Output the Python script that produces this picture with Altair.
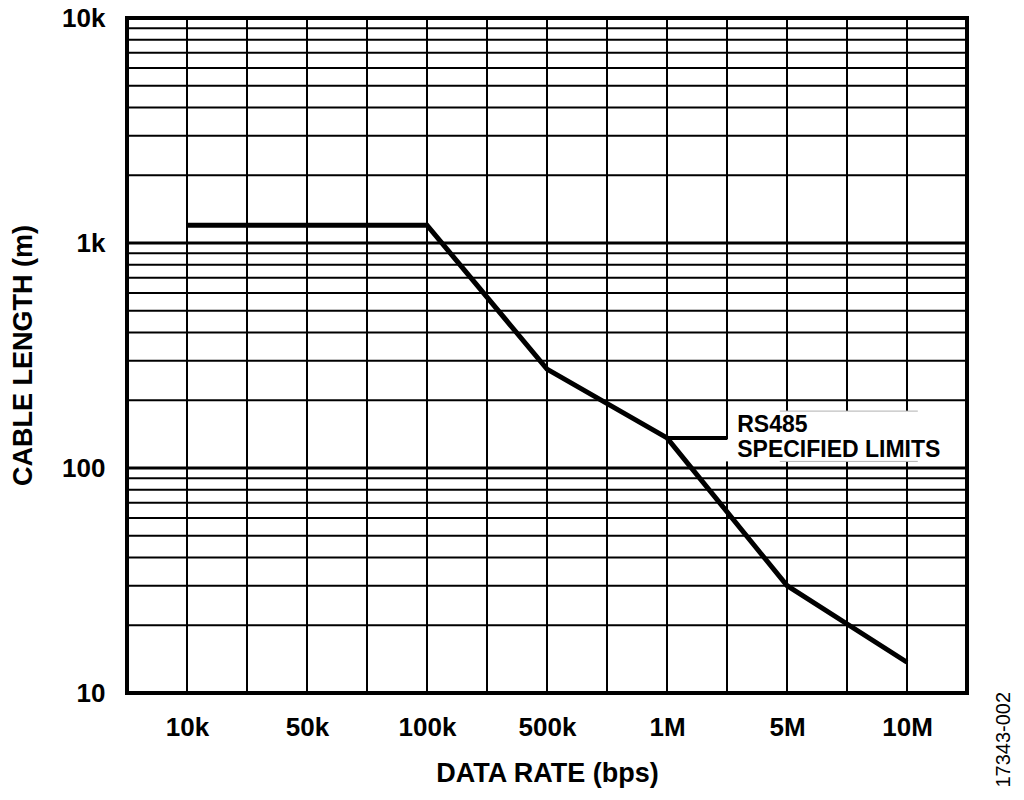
import altair as alt
import pandas as pd

# ---- data ----
rate_labels = ["10k", "50k", "100k", "500k", "1M", "5M", "10M"]
rate_pos = [1, 3, 5, 7, 9, 11, 13]

line_rates = ["10k", "100k", "500k", "1M", "5M", "10M"]
line_lengths = [1200, 1200, 275, 136, 30, 13.7]

x_grid = list(range(1, 14))
y_minor = [20, 30, 40, 50, 60, 70, 80, 90,
           200, 300, 400, 500, 600, 700, 800, 900,
           2000, 3000, 4000, 5000, 6000, 7000, 8000, 9000]
y_major = [100, 1000]

y_ticks = [10, 100, 1000, 10000]
y_tick_labels = ["10", "100", "1k", "10k"]

note_lines = ["RS485", "SPECIFIED LIMITS"]
note_y = [144, 112]
note_x = 10.17
leader_from, leader_to, leader_y = 9, 10, 136
box_x = [10.04, 9.96]
box_x2 = [13.18, 10.04]
box_y = [107, 107]
box_y2 = [179, 134]
edge_x, edge_x2 = 10.88, 13.18

fig_id = "17343-002"

FONT = "Liberation Sans"

pos_of = dict(zip(rate_labels, rate_pos))
df_line = pd.DataFrame({"x": [pos_of[r] for r in line_rates], "y": line_lengths, "rate": line_rates})

x_expr = " : ".join(f"datum.value == {p} ? '{l}'" for p, l in zip(rate_pos, rate_labels)) + " : ''"
y_expr = " : ".join(f"datum.value == {v} ? '{l}'" for v, l in zip(y_ticks, y_tick_labels)) + " : ''"

xs = alt.Scale(domain=[0, 14], nice=False, zero=False)
ys = alt.Scale(type="log", domain=[10, 10000], nice=False)

x_axis = alt.Axis(values=rate_pos, labelExpr=x_expr, title="DATA RATE (bps)",
                  grid=False, domain=False, ticks=False, labelPadding=21,
                  labelFontSize=26, labelFont=FONT, labelFontWeight="bold", labelColor="black",
                  titleFontSize=27, titleFont=FONT, titleFontWeight="bold", titleColor="black",
                  titleX=420, titleY=80, titleBaseline="middle", titleAlign="center")
y_axis = alt.Axis(values=y_ticks, labelExpr=y_expr, title="CABLE LENGTH (m)",
                  grid=False, domain=False, ticks=False, labelPadding=22,
                  labelFontSize=26, labelFont=FONT, labelFontWeight="bold", labelColor="black",
                  titleFontSize=27, titleFont=FONT, titleFontWeight="bold", titleColor="black",
                  titleX=-104, titleY=337, titleAngle=270, titleBaseline="middle", titleAlign="center")

X = lambda f: alt.X(f, scale=xs, axis=x_axis)
Y = lambda f: alt.Y(f, scale=ys, axis=y_axis)

vgrid = alt.Chart(pd.DataFrame({"x": x_grid})).mark_rule(color="black", strokeWidth=2).encode(
    x=X("x:Q"))
hminor = alt.Chart(pd.DataFrame({"y": y_minor})).mark_rule(color="black", strokeWidth=2).encode(
    y=Y("y:Q"))
hmajor = alt.Chart(pd.DataFrame({"y": y_major})).mark_rule(color="black", strokeWidth=3).encode(
    y=Y("y:Q"))

box = alt.Chart(pd.DataFrame({"x": box_x, "x2": box_x2, "y": box_y, "y2": box_y2})).mark_rect(
    color="white").encode(x=X("x:Q"), x2="x2:Q", y=Y("y:Q"), y2="y2:Q")
edges = alt.Chart(pd.DataFrame({"x": [edge_x, edge_x], "x2": [edge_x2, edge_x2], "y": [box_y[0], box_y2[0]]})).mark_rule(
    color="#b0b0b0", strokeWidth=1).encode(x=X("x:Q"), x2="x2:Q", y=Y("y:Q"))

line = alt.Chart(df_line).mark_line(color="black", strokeWidth=5, strokeJoin="miter").encode(
    x=X("x:Q"), y=Y("y:Q"))

leader = alt.Chart(pd.DataFrame({"x": [leader_from], "x2": [leader_to], "y": [leader_y]})).mark_rule(
    color="black", strokeWidth=4).encode(x=X("x:Q"), x2="x2:Q", y=Y("y:Q"))

notes = alt.Chart(pd.DataFrame({"x": [note_x] * len(note_lines), "y": note_y, "t": note_lines})).mark_text(
    align="left", baseline="alphabetic", font=FONT, fontWeight="bold", fontSize=23, color="black").encode(
    x=X("x:Q"), y=Y("y:Q"), text="t:N")

figid = alt.Chart(pd.DataFrame({"x": [14.62], "y": [6.2], "t": [fig_id]})).mark_text(
    angle=270, align="center", baseline="middle", font=FONT, fontSize=20, color="black").encode(
    x=X("x:Q"), y=Y("y:Q"), text="t:N")

chart = alt.layer(vgrid, hminor, hmajor, box, edges, line, leader, notes, figid).properties(
    width=840, height=675,
    autosize=alt.AutoSizeParams(type="none"),
    padding={"left": 119, "top": 10, "right": 49, "bottom": 99},
    background="white",
).configure_view(stroke="black", strokeWidth=4)

chart.save("out.html", embed_options={"renderer": "svg", "actions": False})
